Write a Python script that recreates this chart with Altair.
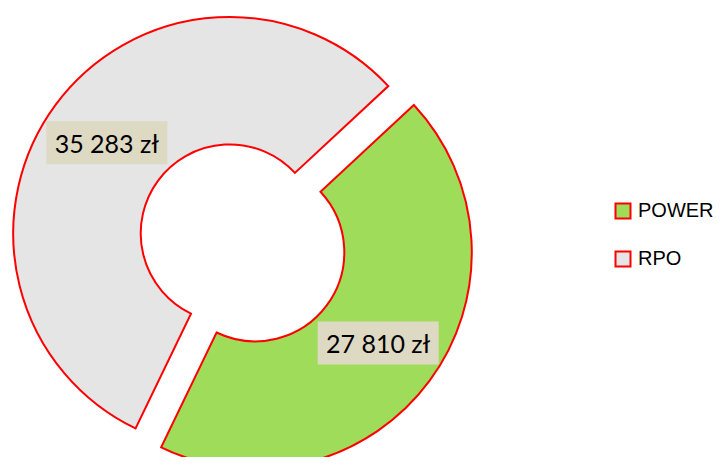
import math
import altair as alt
import pandas as pd

# ---- data ----
categories = ["POWER", "RPO"]
values = [27810, 35283]
slice_colors = ["#9FDC5A", "#E5E5E5"]
labels = [f"{v:,}".replace(",", " ") + " zł" for v in values]

TOTAL = sum(values)
START = math.radians(47.1)          # rotation of first slice (clockwise from 12 o'clock)
BX, BY = 234.5, 234.9               # donut centre (pixels, plot area)
EXPLODE = 15.9                      # explosion distance
R_OUT, R_IN = 216.5, 89
R_MID = (R_OUT + R_IN) / 2
BOX_W, BOX_H = 121, 43

df = pd.DataFrame({
    "category": categories,
    "value": values,
    "label": labels,
    "order": list(range(len(categories))),
})

base = alt.Chart(df).transform_window(
    cum="sum(value)", sort=[alt.SortField("order")], frame=[None, 0]
).transform_calculate(
    start="datum.cum - datum.value",
    mid=f"{START} + 2*PI*(datum.cum - datum.value/2)/{TOTAL}",
).transform_calculate(
    cx=f"{BX} + {EXPLODE}*sin(datum.mid)",
    cy=f"{BY} - {EXPLODE}*cos(datum.mid)",
).transform_calculate(
    lx=f"datum.cx + {R_MID}*sin(datum.mid)",
    ly=f"datum.cy - {R_MID}*cos(datum.mid)",
).transform_calculate(
    bx1=f"datum.lx - {BOX_W/2}", bx2=f"datum.lx + {BOX_W/2}",
    by1=f"datum.ly - {BOX_H/2}", by2=f"datum.ly + {BOX_H/2}",
)

arcs = base.mark_arc(
    outerRadius=R_OUT, innerRadius=R_IN, stroke="#FF0000", strokeWidth=2
).encode(
    theta=alt.Theta("start:Q", stack=None,
                    scale=alt.Scale(domain=[0, TOTAL], range=[START, START + 2 * math.pi])),
    theta2="cum:Q",
    x=alt.X("cx:Q", scale=None, axis=None),
    y=alt.Y("cy:Q", scale=None, axis=None),
    color=alt.Color(
        "category:N",
        scale=alt.Scale(domain=categories, range=slice_colors),
        legend=alt.Legend(
            title=None, orient="none", legendX=605, legendY=193,
            symbolType="square", symbolSize=225,
            symbolStrokeColor="#FF0000", symbolStrokeWidth=2,
            symbolOpacity=1,
            labelFont="Liberation Sans", labelFontSize=20, labelColor="#000000",
            rowPadding=24, labelOffset=5, padding=0,
        ),
    ),
)

boxes = base.mark_rect(color="#DDD9C3").encode(
    x=alt.X("bx1:Q", scale=None, axis=None),
    x2="bx2:Q",
    y=alt.Y("by1:Q", scale=None, axis=None),
    y2="by2:Q",
)

texts = base.mark_text(
    font="Lato", fontSize=25, align="center", baseline="middle", color="#000000", dy=2
).encode(
    x=alt.X("lx:Q", scale=None, axis=None),
    y=alt.Y("ly:Q", scale=None, axis=None),
    text="label:N",
)

chart = alt.layer(arcs, boxes, texts).properties(
    width=706, height=449,
    autosize=alt.AutoSizeParams(type="none"),
    padding=0,
    background="#FFFFFF",
).configure_view(stroke=None)

chart.save("out.html", embed_options={"renderer": "svg", "actions": False})
